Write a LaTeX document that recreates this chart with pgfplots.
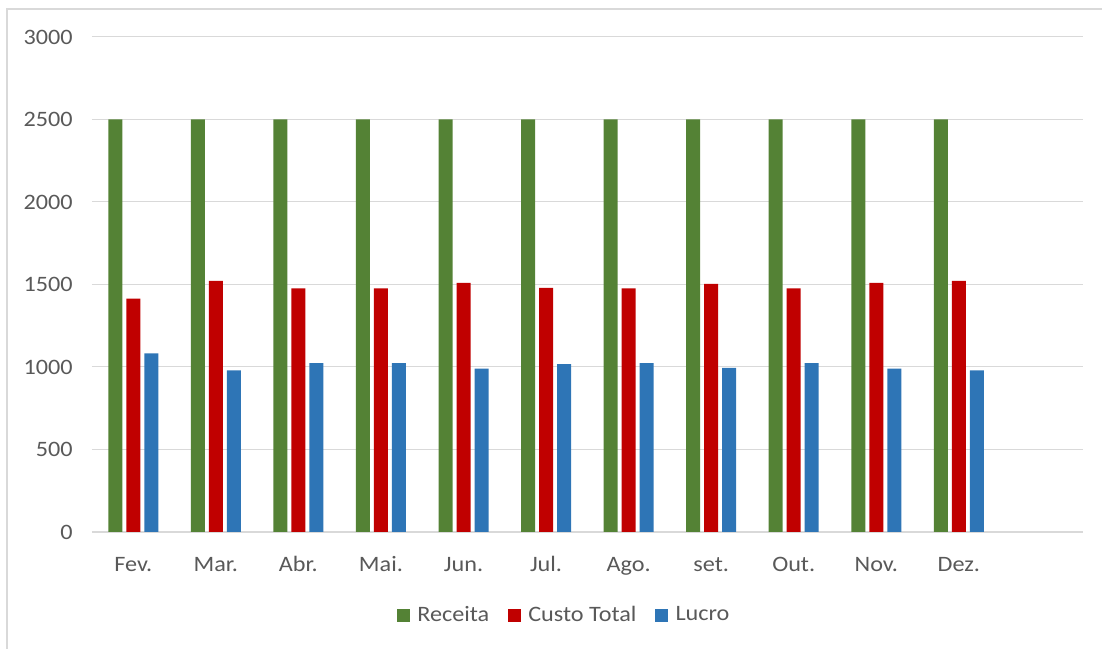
\documentclass[border=0pt]{standalone}
\usepackage{fontspec}
\setmainfont{Carlito}[FakeStretch=1.1]
\usepackage{pgfplots}
\pgfplotsset{compat=1.18}
\definecolor{cgreen}{HTML}{548235}
\definecolor{cred}{HTML}{C00000}
\definecolor{cblue}{HTML}{2E75B6}
\definecolor{cgrid}{HTML}{D9D9D9}
\definecolor{ctext}{HTML}{595959}
\begin{document}
\fontsize{16.5}{20}\selectfont
\begin{tikzpicture}
\path[use as bounding box] (-69pt,-87.75pt) rectangle (757.5pt,399pt);
\draw[cgrid, line width=1.5pt] (-63.75pt,-95pt) -- (-63.75pt,392.25pt) -- (765pt,392.25pt);
\begin{axis}[
  scale only axis, width=743pt, height=371.25pt,
  ybar=3pt, bar width=10.5pt,
  xmin=-0.5, xmax=11.5, ymin=0, ymax=3000,
  xtick={0,...,10},
  xticklabels={Fev.,Mar.,Abr.,Mai.,Jun.,Jul.,Ago.,set.,Out.,Nov.,Dez.},
  ytick={0,500,...,3000},
  ymajorgrids, grid style={cgrid, line width=0.75pt},
  extra y ticks={0}, extra y tick labels={},
  extra y tick style={grid style={cgrid, line width=1.5pt}},
  axis line style={draw=none},
  major tick length=0pt, tick style={draw=none},
  /pgf/number format/assume math mode=true,
  /pgf/number format/1000 sep={},
  yticklabel style={text=ctext, inner xsep=0pt, xshift=-14.25pt},
  xticklabel style={text=ctext, inner ysep=0pt, text height=10.7pt, text depth=0pt, yshift=-18.75pt},
  legend style={at={(0.477,-0.1687)}, anchor=center, draw=none, fill=none,
    legend columns=3, text=ctext,
    /tikz/every odd column/.append style={column sep=3.5pt},
    /tikz/every even column/.append style={column sep=12pt}},
  legend image code/.code={\path[#1, draw=none] (0pt,-4.875pt) rectangle (9.75pt,4.875pt);},
]
\addplot[fill=cgreen, draw=none] coordinates {(0,2500) (1,2500) (2,2500) (3,2500) (4,2500) (5,2500) (6,2500) (7,2500) (8,2500) (9,2500) (10,2500)};
\addplot[fill=cred, draw=none] coordinates {(0,1415) (1,1522) (2,1476) (3,1476) (4,1510) (5,1480) (6,1476) (7,1504) (8,1476) (9,1510) (10,1522)};
\addplot[fill=cblue, draw=none] coordinates {(0,1083) (1,980) (2,1024) (3,1024) (4,990) (5,1018) (6,1024) (7,994) (8,1024) (9,990) (10,980)};
\legend{Receita,Custo Total,Lucro}
\end{axis}
\end{tikzpicture}
\end{document}
